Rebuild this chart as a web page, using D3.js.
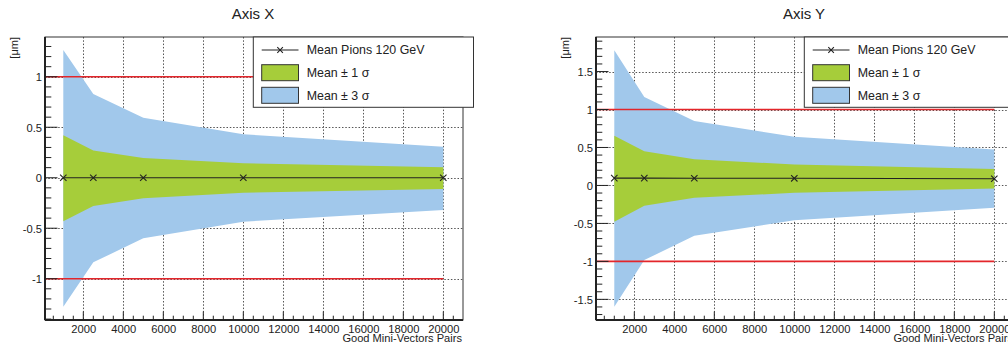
<!DOCTYPE html>
<html>
<head>
<meta charset="utf-8">
<script src="https://cdn.jsdelivr.net/npm/d3@7"></script>
<style>
  html, body { margin: 0; padding: 0; background: #fff; }
  svg { display: block; font-family: "Liberation Sans", Arial, Helvetica, sans-serif; }
</style>
</head>
<body>
<svg id="chart" width="1008" height="350"></svg>
<script>
// ---------- data ----------
const xValues = [1000, 2500, 5000, 10000, 20000];

// Axis X panel
const meanX    = [0, 0, 0, 0, 0];
const sig1UpX  = [0.42, 0.27, 0.195, 0.143, 0.103];
const sig1LoX  = [-0.43, -0.28, -0.204, -0.149, -0.112];
const sig3UpX  = [1.265, 0.83, 0.594, 0.43, 0.307];
const sig3LoX  = [-1.277, -0.838, -0.6, -0.435, -0.32];

// Axis Y panel
const meanY    = [0.096, 0.096, 0.095, 0.094, 0.088];
const sig1UpY  = [0.653, 0.451, 0.346, 0.276, 0.218];
const sig1LoY  = [-0.479, -0.268, -0.163, -0.097, -0.04];
const sig3UpY  = [1.78, 1.166, 0.85, 0.64, 0.474];
const sig3LoY  = [-1.597, -0.983, -0.663, -0.457, -0.295];

const xTickValues = [2000, 4000, 6000, 8000, 10000, 12000, 14000, 16000, 18000, 20000];
const yTicksX = [-1, -0.5, 0, 0.5, 1];
const yTicksY = [-1.5, -1, -0.5, 0, 0.5, 1, 1.5];
const refLines = [1, -1];
const titles = ["Axis X", "Axis Y"];
const legendLabels = ["Mean Pions 120 GeV", "Mean \u00B1 1 \u03C3", "Mean \u00B1 3 \u03C3"];
const xTitle = "Good Mini-Vectors Pairs";
const yTitle = "[\u03BCm]";

// ---------- layout ----------
const svg = d3.select("#chart");
const FRAME = { left: 45, right: 463, top: 37, bottom: 320 };
const GREEN = "#a6cd3a", BLUE = "#a1c8eb", RED = "#e3262b", INK = "#222";

function drawPanel(offset, title, mean, s1u, s1l, s3u, s3l, yDomain, yTicks, clipId) {
  const g = svg.append("g").attr("transform", `translate(${offset},0)`);
  const x = d3.scaleLinear().domain([85, 20985]).range([FRAME.left, FRAME.right]);
  const y = d3.scaleLinear().domain(yDomain).range([FRAME.bottom, FRAME.top]);

  g.append("clipPath").attr("id", clipId).append("rect")
    .attr("x", FRAME.left).attr("y", FRAME.top)
    .attr("width", FRAME.right - FRAME.left).attr("height", FRAME.bottom - FRAME.top);

  const plot = g.append("g").attr("clip-path", `url(#${clipId})`);

  // grid (under fills)
  const gridStyle = sel => sel.attr("stroke", "#555").attr("stroke-width", 1)
    .attr("stroke-dasharray", "1.5,1.8").attr("fill", "none");
  plot.selectAll(".vg").data(xTickValues).join("line")
    .attr("x1", d => Math.round(x(d)) + 0.5).attr("x2", d => Math.round(x(d)) + 0.5)
    .attr("y1", FRAME.top).attr("y2", FRAME.bottom).call(gridStyle);
  plot.selectAll(".hg").data(yTicks).join("line")
    .attr("x1", FRAME.left).attr("x2", FRAME.right)
    .attr("y1", d => Math.round(y(d)) + 0.5).attr("y2", d => Math.round(y(d)) + 0.5).call(gridStyle);

  const idx = d3.range(xValues.length);
  const area = (up, lo) => d3.area().x(i => x(xValues[i])).y0(i => y(lo[i])).y1(i => y(up[i]))(idx);
  plot.append("path").attr("d", area(s3u, s3l)).attr("fill", BLUE);
  plot.append("path").attr("d", area(s1u, s1l)).attr("fill", GREEN);

  // reference lines
  plot.selectAll(".ref").data(refLines).join("line")
    .attr("x1", x(85)).attr("x2", x(20000))
    .attr("y1", d => y(d)).attr("y2", d => y(d))
    .attr("stroke", RED).attr("stroke-width", 1.6);

  // mean line + x markers
  plot.append("path")
    .attr("d", d3.line().x(i => x(xValues[i])).y(i => y(mean[i]))(idx))
    .attr("fill", "none").attr("stroke", INK).attr("stroke-width", 1.1);
  const m = 3.2;
  plot.selectAll(".mk").data(idx).join("path")
    .attr("d", i => {
      const cx = x(xValues[i]), cy = y(mean[i]);
      return `M${cx - m},${cy - m}L${cx + m},${cy + m}M${cx - m},${cy + m}L${cx + m},${cy - m}`;
    })
    .attr("stroke", INK).attr("stroke-width", 1.1);

  // frame
  g.append("rect").attr("x", FRAME.left).attr("y", FRAME.top)
    .attr("width", FRAME.right - FRAME.left).attr("height", FRAME.bottom - FRAME.top)
    .attr("fill", "none").attr("stroke", "#333").attr("stroke-width", 1);

  // x ticks (inward, upward)
  const xMinor = d3.range(500, 20985, 500);
  g.selectAll(".xt").data(xMinor).join("line")
    .attr("x1", d => x(d)).attr("x2", d => x(d))
    .attr("y1", FRAME.bottom).attr("y2", d => FRAME.bottom - (d % 2000 === 0 ? 8.5 : 4.3))
    .attr("stroke", INK).attr("stroke-width", 1);
  // y ticks (inward, rightward)
  const yMinor = d3.range(Math.ceil(yDomain[0] * 10), Math.floor(yDomain[1] * 10) + 1).map(v => v / 10);
  g.selectAll(".yt").data(yMinor).join("line")
    .attr("y1", d => y(d)).attr("y2", d => y(d))
    .attr("x1", FRAME.left)
    .attr("x2", d => FRAME.left + (Math.abs(Math.round(d * 10) % 5) === 0 ? 12.5 : 6.3))
    .attr("stroke", INK).attr("stroke-width", 1);

  // axis lines (thicker)
  g.append("line").attr("x1", FRAME.left).attr("x2", FRAME.right)
    .attr("y1", FRAME.bottom).attr("y2", FRAME.bottom).attr("stroke", INK).attr("stroke-width", 2);
  g.append("line").attr("x1", FRAME.left).attr("x2", FRAME.left)
    .attr("y1", FRAME.top).attr("y2", FRAME.bottom).attr("stroke", INK).attr("stroke-width", 2);

  // tick labels via d3 axes (lines hidden)
  const xAxis = d3.axisBottom(x).tickValues(xTickValues).tickSize(0).tickPadding(0).tickFormat(d3.format("d"));
  const xa = g.append("g").attr("transform", `translate(0,${FRAME.bottom})`).call(xAxis);
  xa.select(".domain").remove();
  xa.selectAll("text").attr("dy", null).attr("y", 12.5)
    .attr("font-size", "11.2px").attr("fill", INK).attr("font-family", "Liberation Sans, Arial, sans-serif");

  const yAxis = d3.axisLeft(y).tickValues(yTicks).tickSize(0).tickPadding(0).tickFormat(d => String(d));
  const ya = g.append("g").attr("transform", `translate(${FRAME.left - 3},0)`).call(yAxis);
  ya.select(".domain").remove();
  ya.selectAll("text").attr("dy", "0.36em").attr("x", 0)
    .attr("font-size", "11.2px").attr("fill", INK).attr("font-family", "Liberation Sans, Arial, sans-serif");

  // titles
  g.append("text").attr("x", 253).attr("y", 18.5).attr("text-anchor", "middle")
    .attr("font-size", "15px").attr("fill", INK).text(title);
  g.append("text").attr("x", FRAME.right - 1).attr("y", 342).attr("text-anchor", "end")
    .attr("font-size", "11.1px").attr("fill", INK).text(xTitle);
  g.append("text").attr("transform", `translate(18,${FRAME.top}) rotate(-90)`)
    .attr("text-anchor", "end").attr("font-size", "11px").attr("fill", INK).text(yTitle);

  // legend
  const L = { x1: 253.3, x2: 473.5, y1: 37, y2: 107.3 };
  const lg = g.append("g");
  lg.append("rect").attr("x", L.x1).attr("y", L.y1).attr("width", L.x2 - L.x1).attr("height", L.y2 - L.y1)
    .attr("fill", "#fff").attr("stroke", "#333").attr("stroke-width", 1);
  const rows = [50, 72.7, 95.3];
  const sx1 = 261.7, sx2 = 298.5;
  lg.append("line").attr("x1", sx1).attr("x2", sx2).attr("y1", rows[0]).attr("y2", rows[0])
    .attr("stroke", INK).attr("stroke-width", 1.1);
  const lcx = (sx1 + sx2) / 2, lm = 2.8;
  lg.append("path").attr("d", `M${lcx - lm},${rows[0] - lm}L${lcx + lm},${rows[0] + lm}M${lcx - lm},${rows[0] + lm}L${lcx + lm},${rows[0] - lm}`)
    .attr("stroke", INK).attr("stroke-width", 1.1);
  [[rows[1], GREEN], [rows[2], BLUE]].forEach(([cy, col]) => {
    lg.append("rect").attr("x", sx1).attr("y", cy - 8).attr("width", sx2 - sx1).attr("height", 16)
      .attr("fill", col).attr("stroke", "#333").attr("stroke-width", 1);
  });
  legendLabels.forEach((t, i) => {
    lg.append("text").attr("x", 306.7).attr("y", rows[i] + 4.4)
      .attr("font-size", "12.4px").attr("fill", INK).text(t);
  });
}

drawPanel(0, titles[0], meanX, sig1UpX, sig1LoX, sig3UpX, sig3LoX, [-1.409, 1.394], yTicksX, "clipA");
drawPanel(551, titles[1], meanY, sig1UpY, sig1LoY, sig3UpY, sig3LoY, [-1.772, 1.955], yTicksY, "clipB");
</script>
</body>
</html>
